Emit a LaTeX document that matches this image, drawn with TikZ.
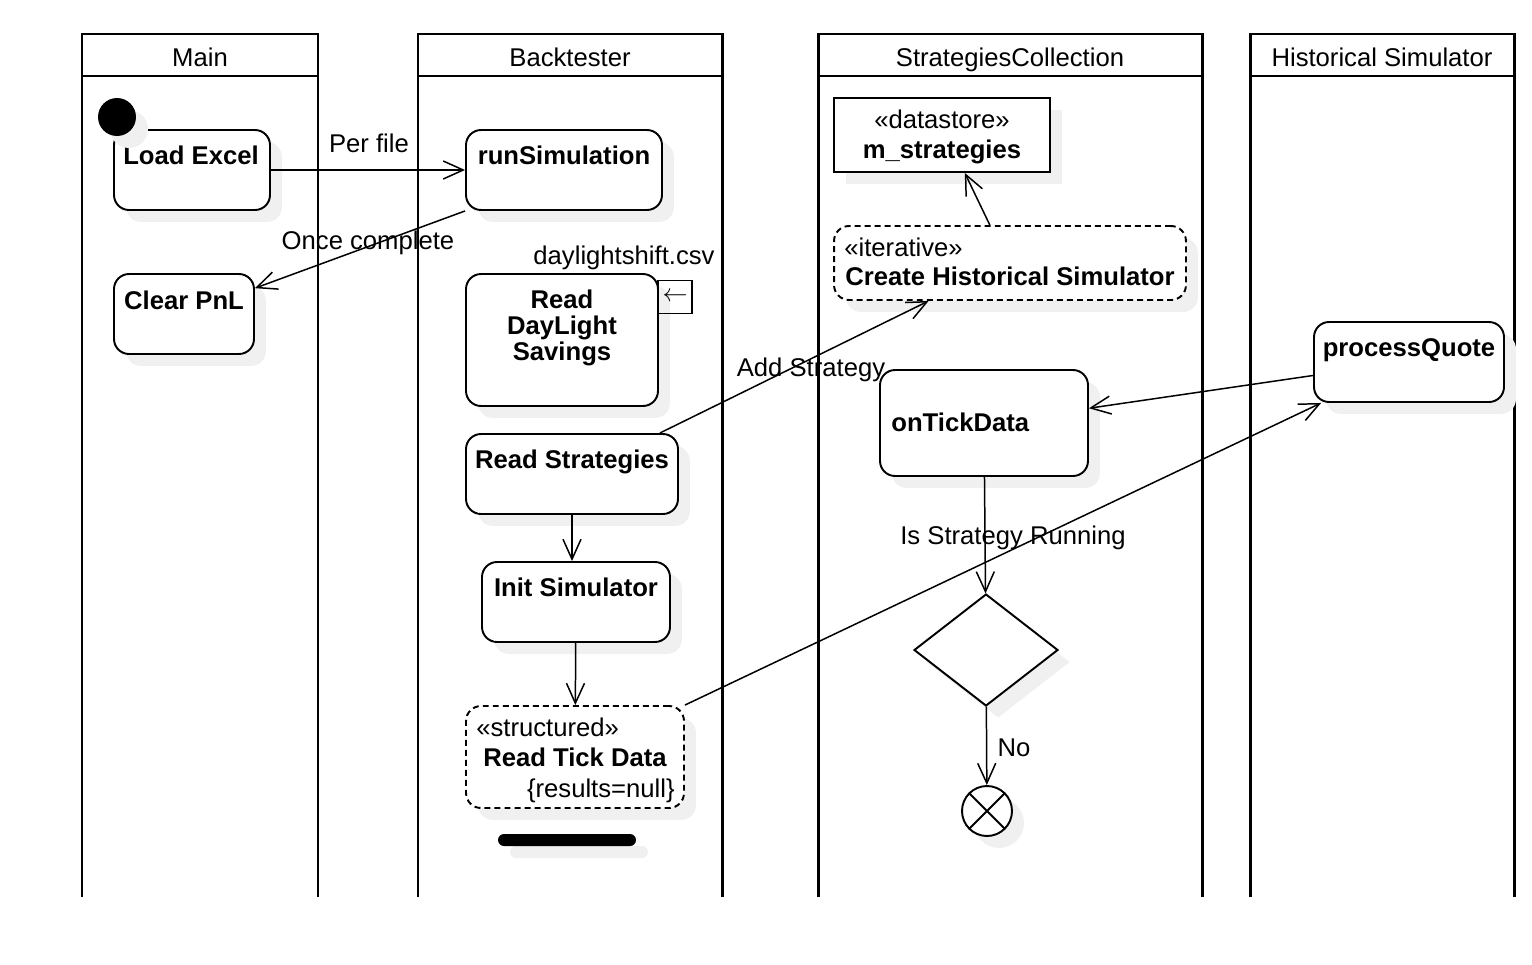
\documentclass[tikz,border=0pt]{standalone}
\usepackage{fontspec}
\setmainfont{Liberation Sans}
\usetikzlibrary{positioning, calc, shapes.geometric, shadows, arrows.meta}

\begin{document}
\begin{tikzpicture}[x=0.02cm, y=-0.02cm,
    every node/.style={font=\fontsize{14.6}{14.74}\selectfont},
    lane/.style={line width=1.7pt},
    shdw/.style={drop shadow={shadow xshift=0.24cm, shadow yshift=-0.24cm, fill=black!6, opacity=1}},
    act/.style={draw, rounded corners=0.3cm, line width=1.1pt, fill=white, shdw, inner sep=0},
    dashact/.style={act, dash pattern=on 3.4pt off 2.3pt},
    txt/.style={anchor=base, inner sep=0},
    btxt/.style={txt, font=\fontsize{14.6}{14.74}\selectfont\bfseries},
    flow/.style={line width=0.85pt, -{Straight Barb[length=0.4cm, width=0.36cm]}}]

  \useasboundingbox (0,0) rectangle (1532,964);

  % swimlanes
  \foreach \l/\r/\t [count=\i] in {82/318/Main, 418/722/Backtester, 818/1202/StrategiesCollection, 1250/1514/Historical Simulator} {
    \draw[lane] (\l,897) -- (\l,34) -- (\r,34) -- (\r,897) (\l,76) -- (\r,76);
    \node[txt] (lane\i) at ({(\l+\r)/2},66) {\t};
  }

  % Main
  \node[act, minimum width=3.12cm, minimum height=1.6cm] (load) at (192,170) {};
  \node[btxt] (loadT) at (191,164) {Load Excel};
  \node[circle, fill=black, minimum size=0.76cm, inner sep=0, shdw] (start) at (117,117) {};
  \node[act, minimum width=2.8cm, minimum height=1.6cm] (clear) at (184,314) {};
  \node[btxt] (clearT) at (184,309) {Clear PnL};

  % Backtester
  \node[act, minimum width=3.92cm, minimum height=1.6cm] (run) at (564,170) {};
  \node[btxt] (runT) at (564,164) {runSimulation};
  \node[act, minimum width=3.84cm, minimum height=2.64cm] (dls) at (562,340) {};
  \node[btxt, anchor=north, align=center] (dlsT) at (562,290) {Read\\DayLight\\Savings};
  \node[draw, line width=0.9pt, minimum width=0.68cm, minimum height=0.66cm, inner sep=0] (pin) at (675,297) {\resizebox{0.5cm}{!}{$\leftarrow$}};
  \node[txt] (pinT) at (624,264) {daylightshift.csv};
  \node[act, minimum width=4.24cm, minimum height=1.6cm] (reads) at (572,474) {};
  \node[btxt] (readsT) at (572,468) {Read Strategies};
  \node[act, minimum width=3.76cm, minimum height=1.6cm] (init) at (576,602) {};
  \node[btxt] (initT) at (576,596) {Init Simulator};
  \node[dashact, minimum width=4.36cm, minimum height=2.04cm] (tick) at (575,757) {};
  \node[txt, anchor=base west] (tickS) at (476,736) {«structured»};
  \node[btxt] (tickT) at (575,766) {Read Tick Data};
  \node[txt, anchor=base east] (tickR) at (675,797) {\{results=null\}};
  \node[fill=black, rounded corners=0.12cm, minimum width=2.76cm, minimum height=0.24cm, inner sep=0, shdw] (bar) at (567,840) {};

  % StrategiesCollection
  \node[draw, line width=1.1pt, fill=white, shdw, minimum width=4.32cm, minimum height=1.48cm] (store) at (942,135) {};
  \node[txt] (storeS) at (942,128) {«datastore»};
  \node[btxt] (storeT) at (942,158) {m\_strategies};
  \node[dashact, minimum width=7.04cm, minimum height=1.48cm] (create) at (1010,263) {};
  \node[txt, anchor=base west] (createS) at (844,256) {«iterative»};
  \node[btxt] (createT) at (1010,285) {Create Historical Simulator};
  \node[act, minimum width=4.16cm, minimum height=2.12cm] (tickd) at (984,423) {};
  \node[btxt, anchor=base west] (tickdT) at (891,431) {onTickData};
  \node[diamond, draw, line width=1.1pt, fill=white, shdw, minimum width=2.88cm, minimum height=2.24cm, inner sep=0] (dec) at (986,650) {};
  \node[circle, draw, line width=1.1pt, fill=white, shdw, minimum size=1cm, inner sep=0] (fin) at (987,811) {};
  \draw[line width=1.1pt] (fin.45) -- (fin.225) (fin.135) -- (fin.-45);

  % Historical Simulator
  \node[act, minimum width=3.8cm, minimum height=1.6cm] (pq) at (1409,362) {};
  \node[btxt] (pqT) at (1409,356) {processQuote};

  % flows
  \draw[flow] (load) -- (run);
  \node[txt] (perfile) at (369,152) {Per file};
  \draw[flow] (run.south west) -- (clear.20);
  \node[txt] (once) at (368,249) {Once complete};
  \draw[flow] (reads.25) -- (create.205);
  \node[txt] (addS) at (811,376) {Add Strategy};
  \draw[flow] (create.118) -- (store.-59);
  \draw[flow] (reads.south) -- (reads.south |- init.north);
  \draw[flow] (init) -- (tick);
  \draw[flow] (tick.north east) -- (pq.205);
  \draw[flow] (pq.188) -- (tickd.8);
  \draw[flow] (tickd) -- (dec);
  \node[txt] (running) at (1013,544) {Is Strategy Running};
  \draw[flow] (dec) -- (fin);
  \node[txt] (no) at (1014,756) {No};
\end{tikzpicture}
\end{document}
